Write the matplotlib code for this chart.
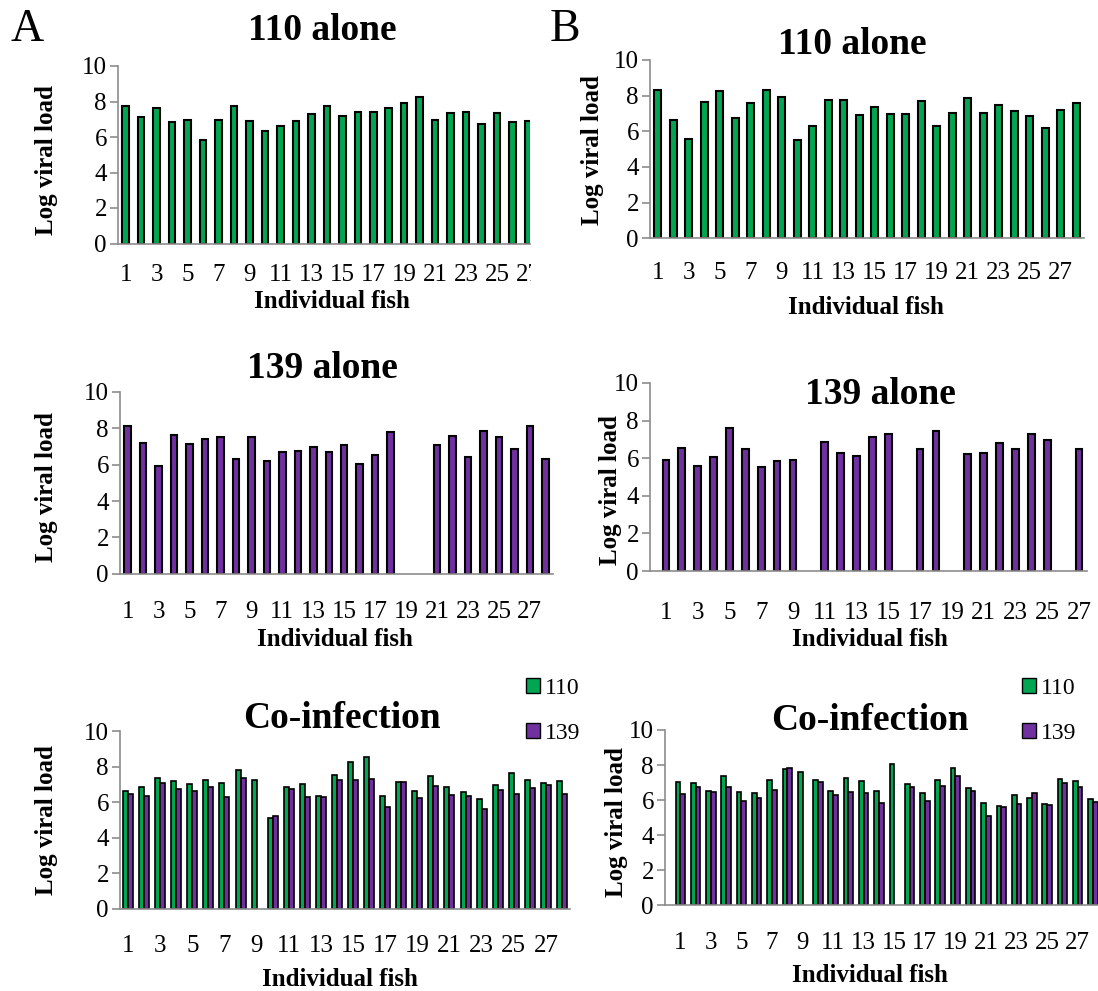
import numpy as np
import matplotlib.pyplot as plt
from matplotlib.patches import Patch
from matplotlib.transforms import Bbox, TransformedBbox

plt.rcParams['font.family'] = ['Liberation Serif', 'DejaVu Serif']

W, H = 1098, 991
GREEN = '#00A651'
PURPLE = '#7030A0'
SPINE = '#8C8C8C'
nan = np.nan

# log viral load per fish (nan = no measurement)
a_110_alone = [7.72, 7.13, 7.66, 6.85, 6.95, 5.81, 6.98, 7.75, 6.89, 6.31, 6.63, 6.91, 7.32, 7.72,
               7.19, 7.42, 7.40, 7.62, 7.94, 8.28, 6.97, 7.36, 7.42, 6.76, 7.36, 6.87, 6.89]
a_139_alone = [8.13, 7.19, 5.94, 7.63, 7.12, 7.43, 7.52, 6.31, 7.52, 6.18, 6.68, 6.75, 6.95, 6.72,
               7.06, 6.06, 6.55, 7.82, nan, nan, 7.10, 7.58, 6.44, 7.83, 7.50, 6.84, 8.15, 6.29]
a_coinf_110 = [6.60, 6.87, 7.34, 7.20, 7.00, 7.24, 7.07, 7.80, 7.26, 5.08, 6.85, 7.02, 6.34, 7.52,
               8.27, 8.54, 6.32, 7.11, 6.64, 7.45, 6.85, 6.57, 6.17, 6.96, 7.62, 7.24, 7.07, 7.17]
a_coinf_139 = [6.47, 6.34, 7.09, 6.74, 6.62, 6.85, 6.27, 7.34, nan, 5.20, 6.75, 6.29, 6.27, 7.24,
               7.24, 7.28, 5.70, 7.15, 6.25, 6.92, 6.40, 6.32, 5.59, 6.66, 6.45, 6.77, 6.94, 6.45]

b_110_alone = [8.32, 6.64, 5.55, 7.66, 8.28, 6.75, 7.61, 8.34, 7.94, 5.53, 6.30, 7.76, 7.76, 6.93,
               7.36, 6.97, 6.97, 7.70, 6.28, 7.05, 7.87, 7.01, 7.46, 7.12, 6.84, 6.21, 7.18, 7.57]
b_139_alone = [5.90, 6.52, 5.58, 6.07, 7.58, 6.50, 5.51, 5.83, 5.88, nan, 6.87, 6.27, 6.13, 7.14,
               7.28, nan, 6.50, 7.46, nan, 6.20, 6.29, 6.80, 6.50, 7.28, 6.98, nan, 6.50]
b_coinf_110 = [7.01, 6.97, 6.53, 7.37, 6.44, 6.38, 7.12, 7.77, 7.58, 7.16, 6.53, 7.25, 7.08, 6.52,
               8.07, 6.93, 6.38, 7.14, 7.84, 6.67, 5.83, 5.66, 6.27, 6.14, 5.80, 7.23, 7.08, 6.08]
b_coinf_139 = [6.33, 6.72, 6.48, 6.76, 5.97, 6.14, 6.57, 7.86, nan, 7.05, 6.27, 6.44, 6.42, 5.81,
               nan, 6.72, 5.97, 6.82, 7.39, 6.50, 5.08, 5.61, 5.80, 6.38, 5.72, 6.97, 6.74, 5.87]

odd_ticks = list(range(1, 28, 2))

fig = plt.figure(figsize=(W / 100, H / 100), dpi=100)


def px_axes(left, right, y0, y10):
    return fig.add_axes([left / W, 1 - y0 / H, (right - left) / W, (y0 - y10) / H])


def style(ax, xlim, xpad=16):
    ax.set_ylim(0, 10)
    ax.set_xlim(*xlim)
    ax.set_yticks([0, 2, 4, 6, 8, 10])
    ax.set_xticks(odd_ticks)
    for s in ('top', 'right'):
        ax.spines[s].set_visible(False)
    for s in ('left', 'bottom'):
        ax.spines[s].set_color(SPINE)
        ax.spines[s].set_linewidth(1.2)
    ax.tick_params(axis='y', length=6, width=1.2, color=SPINE, labelsize=18, pad=2)
    ax.tick_params(axis='x', length=0, labelsize=18, pad=xpad)


def single(ax, vals, color):
    v = np.array(vals, dtype=float)
    x = np.arange(1, len(v) + 1)
    m = ~np.isnan(v)
    ax.bar(x[m], v[m], width=0.42, color=color, edgecolor='black', linewidth=1.5)


def paired(ax, v110, v139):
    for vals, off, color in ((v110, -0.155, GREEN), (v139, 0.155, PURPLE)):
        v = np.array(vals, dtype=float)
        x = np.arange(1, len(v) + 1) + off
        m = ~np.isnan(v)
        ax.bar(x[m], v[m], width=0.31, color=color, edgecolor='black', linewidth=1.2)


def labels(title, tx, ty, xlx, xly, ylx, yly):
    fig.text(tx / W, 1 - ty / H, title, ha='center', va='center', fontsize=27, fontweight='bold')
    fig.text(xlx / W, 1 - xly / H, 'Individual fish', ha='center', va='center',
             fontsize=18, fontweight='bold')
    fig.text(ylx / W, 1 - yly / H, 'Log viral load', ha='center', va='center',
             fontsize=18, fontweight='bold', rotation=90)


def legend(ax, x, y):
    handles = [Patch(facecolor=GREEN, edgecolor='black', label='110'),
               Patch(facecolor=PURPLE, edgecolor='black', label='139')]
    ax.legend(handles=handles, loc='upper left', bbox_to_anchor=(x / W, 1 - y / H),
              bbox_transform=fig.transFigure, frameon=False, fontsize=17,
              handlelength=0.6, handleheight=0.6, handletextpad=0.2,
              labelspacing=1.0, borderpad=0, borderaxespad=0)


# column A
ax = px_axes(118, 530, 243.5, 66)
single(ax, a_110_alone, GREEN)
style(ax, (0.5, 27.13), xpad=15)
clip = TransformedBbox(Bbox.from_extents(0, 0, 531 / W, 1), fig.transFigure)
for t in ax.xaxis.get_major_ticks():
    t.label1.set_clip_box(clip)
    t.label1.set_clip_on(True)
labels('110 alone', 322, 30, 332, 302, 47, 160)

ax = px_axes(120, 553, 573.7, 392)
single(ax, a_139_alone, PURPLE)
style(ax, (0.5, 28.5), xpad=20)
labels('139 alone', 322, 368, 335, 640, 47, 487)

ax = px_axes(120, 570, 908.7, 731)
paired(ax, a_coinf_110, a_coinf_139)
style(ax, (0.5, 28.5), xpad=19)
labels('Co-infection', 342, 718, 340, 979, 47, 820)
legend(ax, 526, 678)

# column B
ax = px_axes(650, 1084, 238.3, 60)
single(ax, b_110_alone, GREEN)
style(ax, (0.5, 28.5), xpad=17)
labels('110 alone', 852, 45, 866, 307, 592, 150)

ax = px_axes(650, 1087, 571, 383)
single(ax, b_139_alone, PURPLE)
style(ax, (0, 27.5), xpad=22)
labels('139 alone', 880, 395, 870, 640, 610, 490)

ax = px_axes(665, 1098, 905.3, 730)
paired(ax, b_coinf_110, b_coinf_139)
style(ax, (0, 28.33), xpad=19)
labels('Co-infection', 870, 720, 870, 975, 617, 822)
legend(ax, 1022, 678)

fig.text(10 / W, 1 - 30 / H, 'A', ha='left', va='center', fontsize=33)
fig.text(550 / W, 1 - 30 / H, 'B', ha='left', va='center', fontsize=33)

fig.savefig('out.png', dpi=100)
